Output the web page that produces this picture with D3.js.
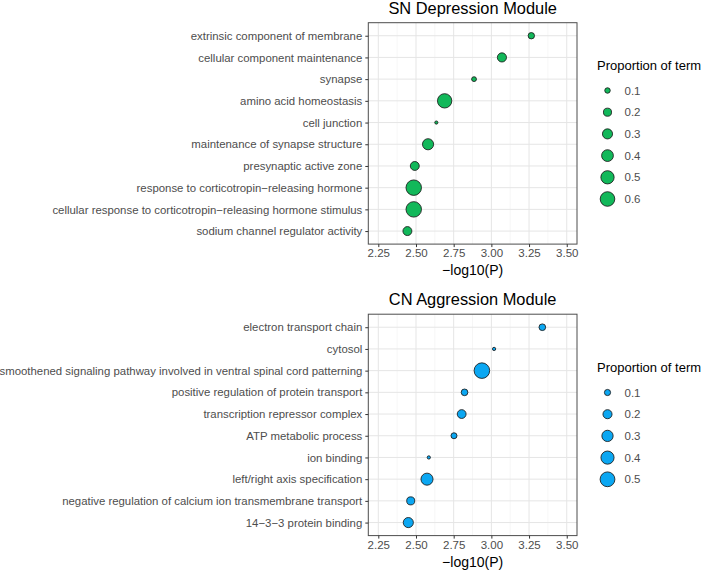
<!DOCTYPE html>
<html>
<head>
<meta charset="utf-8">
<script src="https://cdn.jsdelivr.net/npm/d3@7"></script>
<style>
  html, body { margin: 0; padding: 0; background: #ffffff; }
  svg { display: block; font-family: "Liberation Sans", Arial, sans-serif; }
</style>
</head>
<body>
<svg id="chart" width="710" height="572"></svg>
<script>
// ---------- data ----------
const snTitle = "SN Depression Module";
const snTerms = [
  "extrinsic component of membrane",
  "cellular component maintenance",
  "synapse",
  "amino acid homeostasis",
  "cell junction",
  "maintenance of synapse structure",
  "presynaptic active zone",
  "response to corticotropin\u2212releasing hormone",
  "cellular response to corticotropin\u2212releasing hormone stimulus",
  "sodium channel regulator activity"
];
const snLogP = [3.265, 3.07, 2.885, 2.69, 2.635, 2.58, 2.492, 2.485, 2.485, 2.443];
const snProp = [0.13, 0.25, 0.08, 0.58, 0.04, 0.36, 0.24, 0.67, 0.67, 0.24];
const snLegend = [0.1, 0.2, 0.3, 0.4, 0.5, 0.6];

const cnTitle = "CN Aggression Module";
const cnTerms = [
  "electron transport chain",
  "cytosol",
  "smoothened signaling pathway involved in ventral spinal cord patterning",
  "positive regulation of protein transport",
  "transcription repressor complex",
  "ATP metabolic process",
  "ion binding",
  "left/right axis specification",
  "negative regulation of calcium ion transmembrane transport",
  "14\u22123\u22123 protein binding"
];
const cnLogP = [3.338, 3.018, 2.937, 2.822, 2.803, 2.752, 2.585, 2.573, 2.465, 2.449];
const cnProp = [0.115, 0.034, 0.55, 0.115, 0.19, 0.095, 0.034, 0.34, 0.16, 0.245];
const cnLegend = [0.1, 0.2, 0.3, 0.4, 0.5];

const xTicks = [2.25, 2.50, 2.75, 3.00, 3.25, 3.50];
const xMinor = [2.375, 2.625, 2.875, 3.125, 3.375];
const xDomain = [2.1836, 3.568];
const xLabel = "\u2212log10(P)";
const legendTitle = "Proportion of term";

// ---------- drawing ----------
const svg = d3.select("#chart");

function panel(cfg) {
  const g = svg.append("g");
  const x = d3.scaleLinear().domain(xDomain).range([cfg.left, cfg.right]);
  const y = d3.scalePoint().domain(cfg.terms).range([cfg.top, cfg.bottom]).padding(0.6);
  const r = d3.scaleSqrt().domain([0, cfg.legend[cfg.legend.length - 1]]).range([0, cfg.rmax]);

  g.append("rect").attr("x", cfg.left).attr("y", cfg.top)
    .attr("width", cfg.right - cfg.left).attr("height", cfg.bottom - cfg.top)
    .attr("fill", "#ffffff");

  g.selectAll(".minor").data(xMinor).enter().append("line")
    .attr("x1", d => x(d)).attr("x2", d => x(d))
    .attr("y1", cfg.top).attr("y2", cfg.bottom)
    .attr("stroke", "#f0f0f0").attr("stroke-width", 0.6);
  g.selectAll(".vmaj").data(xTicks).enter().append("line")
    .attr("x1", d => x(d)).attr("x2", d => x(d))
    .attr("y1", cfg.top).attr("y2", cfg.bottom)
    .attr("stroke", "#e5e5e5").attr("stroke-width", 1);
  g.selectAll(".hmaj").data(cfg.terms).enter().append("line")
    .attr("x1", cfg.left).attr("x2", cfg.right)
    .attr("y1", d => y(d)).attr("y2", d => y(d))
    .attr("stroke", "#e5e5e5").attr("stroke-width", 1);

  const pts = cfg.terms.map((t, i) => ({ t, v: cfg.logp[i], p: cfg.prop[i] }));
  g.selectAll(".pt").data(pts).enter().append("circle")
    .attr("cx", d => x(d.v)).attr("cy", d => y(d.t))
    .attr("r", d => Math.max(r(d.p) - 0.4, 0.5))
    .attr("fill", cfg.color).attr("stroke", "#1a1a1a").attr("stroke-width", 0.85);

  g.append("rect").attr("x", cfg.left).attr("y", cfg.top)
    .attr("width", cfg.right - cfg.left).attr("height", cfg.bottom - cfg.top)
    .attr("fill", "none").attr("stroke", "#4d4d4d").attr("stroke-width", 1);

  const xAxis = d3.axisBottom(x).tickValues(xTicks).tickFormat(d3.format(".2f"))
    .tickSizeInner(3).tickSizeOuter(0).tickPadding(2);
  const xa = g.append("g").attr("transform", `translate(0,${cfg.bottom})`).call(xAxis);
  xa.select(".domain").remove();
  xa.selectAll(".tick line").attr("stroke", "#333333");
  xa.selectAll(".tick text").attr("fill", "#4d4d4d").attr("font-size", 11.5)
    .attr("font-family", "Liberation Sans, Arial, sans-serif");

  const yAxis = d3.axisLeft(y).tickSizeInner(3).tickSizeOuter(0).tickPadding(3);
  const ya = g.append("g").attr("transform", `translate(${cfg.left},0)`).call(yAxis);
  ya.select(".domain").remove();
  ya.selectAll(".tick line").attr("stroke", "#333333");
  ya.selectAll(".tick text").attr("fill", "#4d4d4d").attr("font-size", 11.4)
    .attr("font-family", "Liberation Sans, Arial, sans-serif");

  g.append("text").attr("x", (cfg.left + cfg.right) / 2).attr("y", cfg.bottom + 31)
    .attr("text-anchor", "middle").attr("font-size", 14).attr("fill", "#000")
    .text(xLabel);

  g.append("text").attr("x", (cfg.left + cfg.right) / 2).attr("y", cfg.top - 9)
    .attr("text-anchor", "middle").attr("font-size", 16.4).attr("fill", "#000")
    .text(cfg.title);

  const lg = g.append("g");
  lg.append("text").attr("x", cfg.legX).attr("y", cfg.legY)
    .attr("font-size", 13).attr("fill", "#000").text(legendTitle);
  const items = lg.selectAll(".li").data(cfg.legend).enter().append("g")
    .attr("transform", (d, i) => `translate(${cfg.legX + 10.5},${cfg.legY + 20.5 + i * 21.7})`);
  items.append("circle").attr("r", d => r(d) - 0.4)
    .attr("fill", cfg.color).attr("stroke", "#1a1a1a").attr("stroke-width", 0.85);
  items.append("text").attr("x", 17).attr("y", 4).attr("font-size", 11.5)
    .attr("fill", "#4d4d4d").text(d3.format(".1f"));
}

panel({
  title: snTitle, terms: snTerms, logp: snLogP, prop: snProp, legend: snLegend,
  left: 368.3, right: 577, top: 22.7, bottom: 244.1,
  rmax: 7.7, color: "#12B85A", legX: 597, legY: 70
});

panel({
  title: cnTitle, terms: cnTerms, logp: cnLogP, prop: cnProp, legend: cnLegend,
  left: 368.3, right: 577, top: 314.2, bottom: 535.6,
  rmax: 7.8, color: "#0BA7F2", legX: 597, legY: 372
});
</script>
</body>
</html>
